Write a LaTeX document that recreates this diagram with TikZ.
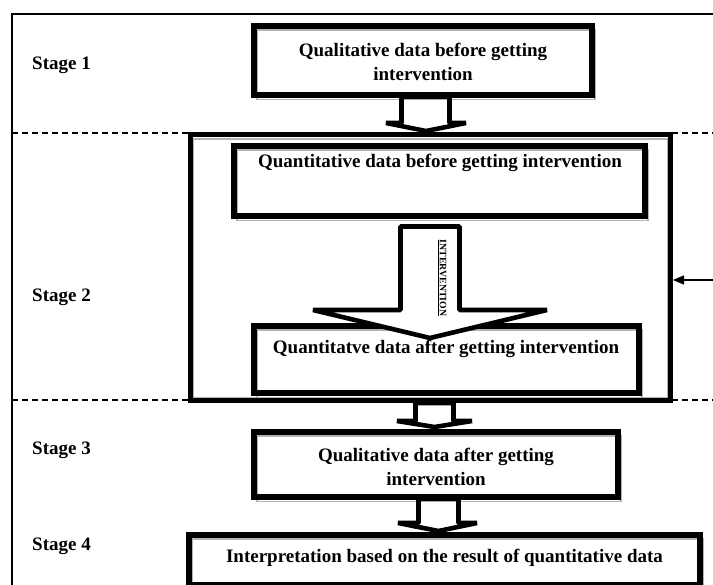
\documentclass[tikz,border=0pt]{standalone}
\usepackage{fontspec}
\setmainfont{Liberation Serif}
\usetikzlibrary{arrows.meta}
\tikzset{
  boxline/.style={draw=black, line width=5.5pt},
  shadowline/.style={draw=black!30, line width=1.5pt},
  framebox/.style={draw=black, line width=5pt},
  blockarrow/.style={draw=black, fill=white, line width=4.6pt, line join=bevel},
  stagelabel/.style={anchor=west, inner sep=0pt, font=\fontsize{19}{22}\selectfont\bfseries},
  boxtext/.style={inner sep=0pt, align=center, font=\fontsize{19}{23.5}\selectfont\bfseries},
  divider/.style={draw=black, line width=1.5pt, dash pattern=on 6pt off 4pt},
  outerline/.style={draw=black, line width=2pt},
}
\begin{document}
\begin{tikzpicture}[x=1pt,y=-1pt]
\useasboundingbox (0,0) rectangle (713,585);
\clip (0,0) rectangle (713,585);
\fill[white] (0,0) rectangle (713,585);
% outer frame
\draw[outerline] (713,14) -- (12,14) -- (12,590);
% dividers
\draw[divider] (12,133) -- (713,133);
\draw[divider] (12,400) -- (713,400);
% stage labels
\node[stagelabel] (s1) at (32,65) {Stage 1};
\node[stagelabel] (s2) at (32,297) {Stage 2};
\node[stagelabel] (s3) at (32,450) {Stage 3};
\node[stagelabel] (s4) at (32,546) {Stage 4};
% stage 2 frame
\draw[shadowline] (193.5,139) rectangle (667.5,398);
\draw[framebox] (190.5,135) rectangle (670.5,401);
\coordinate (frameE) at (673,280);
\coordinate (rarrow) at (713,280);
\draw[line width=1.4pt, -{Triangle[length=11pt,width=9pt]}] (rarrow) -- (frameE);
% box 1
\draw[shadowline] (257,30) rectangle (595,99.5);
\draw[boxline] (254,26) rectangle (592,95);
\node[boxtext] (t1) at (423,62) {Qualitative data before getting\\intervention};
% arrow 1
\draw[blockarrow] (401.5,97) -- (401.5,123) -- (386,123) -- (426,131) -- (466,123) -- (449.5,123) -- (449.5,97) -- cycle;
% box 2
\draw[shadowline] (237,150) rectangle (648,220.5);
\draw[boxline] (234,146) rectangle (645,216);
\node[boxtext] (t2) at (440,163) {Quantitative data before getting intervention};
% box 3
\draw[shadowline] (257,330) rectangle (642,397.5);
\draw[boxline] (254,326) rectangle (639,393);
\node[boxtext] (t3) at (446,349) {Quantitatve data after getting intervention};
% intervention arrow
\draw[blockarrow] (400.5,226.5) -- (400.5,310) -- (313,310) -- (430,338) -- (547,310) -- (459.5,310) -- (459.5,226.5) -- cycle;
\node[inner sep=0pt, rotate=-90, font=\fontsize{9.8}{11}\selectfont\bfseries] (iv) at (442,278) {\underline{INTERVENTION}};
% arrow 3
\draw[blockarrow] (415.5,403) -- (415.5,421) -- (397,421) -- (434.5,427) -- (472,421) -- (453.5,421) -- (453.5,403) -- cycle;
% box 4
\draw[shadowline] (257,436) rectangle (621,501.5);
\draw[boxline] (254,432) rectangle (618,497);
\node[boxtext] (t4) at (436,467) {Qualitative data after getting\\intervention};
% arrow 4
\draw[blockarrow] (418.5,499) -- (418.5,523) -- (398,523) -- (438.5,531) -- (477,523) -- (458.5,523) -- (458.5,499) -- cycle;
% box 5
\draw[shadowline] (192,539) rectangle (703,590);
\draw[boxline] (189,535) rectangle (700,585);
\node[boxtext] (t5) at (444.5,558) {Interpretation based on the result of quantitative data};
\end{tikzpicture}
\end{document}
